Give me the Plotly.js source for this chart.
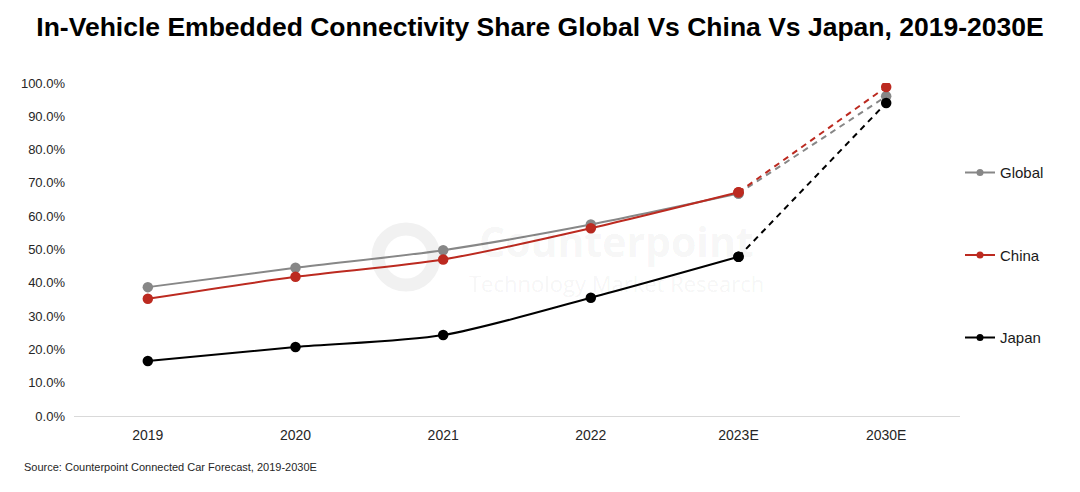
<!DOCTYPE html>
<html>
<head>
<meta charset="utf-8">
<script src="https://cdn.plot.ly/plotly-3.0.1.min.js"></script>
<style>
html,body{margin:0;padding:0;background:#fff;}
#chart{width:1080px;height:492px;}
</style>
</head>
<body>
<div id="chart"></div>
<script>
// ---- data ----
const years = ["2019", "2020", "2021", "2022", "2023E", "2030E"];
const globalShare = [0.387, 0.445, 0.498, 0.575, 0.668, 0.960];
const chinaShare  = [0.352, 0.418, 0.470, 0.564, 0.672, 0.988];
const japanShare  = [0.165, 0.207, 0.243, 0.355, 0.478, 0.940];
const seriesNames = ["Global", "China", "Japan"];
const seriesColors = ["#878787", "#bc2a20", "#000000"];
const titleText = "In-Vehicle Embedded Connectivity Share Global Vs China Vs Japan, 2019-2030E";
const sourceText = "Source: Counterpoint Connected Car Forecast, 2019-2030E";

const allSeries = [globalShare, chinaShare, japanShare];
const splitIdx = 4; // last actual point (2023E)

const traces = [];
allSeries.forEach((vals, i) => {
  // solid, smoothed part
  traces.push({
    x: years.slice(0, splitIdx + 1), y: vals.slice(0, splitIdx + 1),
    type: "scatter", mode: "lines+markers", name: seriesNames[i],
    line: {color: seriesColors[i], width: 2, shape: "spline", smoothing: 0.8},
    marker: {color: seriesColors[i], size: 10.5},
    showlegend: false, hoverinfo: "skip"
  });
  // dashed forecast part
  traces.push({
    x: years.slice(splitIdx), y: vals.slice(splitIdx),
    type: "scatter", mode: "lines+markers", name: seriesNames[i],
    line: {color: seriesColors[i], width: 2, dash: "6px,5px"},
    marker: {color: seriesColors[i], size: 10.5},
    showlegend: false, hoverinfo: "skip"
  });
});
// legend entries
seriesNames.forEach((n, i) => {
  traces.push({
    x: [null], y: [null], type: "scatter", mode: "lines+markers", name: n,
    legendgroup: n,
    line: {color: seriesColors[i], width: 2},
    marker: {color: seriesColors[i], size: 7},
    showlegend: true
  });
});

const wm = "rgba(0,0,0,0.055)";
const layout = {
  width: 1080, height: 492,
  margin: {l: 74, r: 120, t: 83, b: 76},
  paper_bgcolor: "#ffffff", plot_bgcolor: "rgba(0,0,0,0)",
  font: {family: "Liberation Sans, Arial, sans-serif", color: "#262626"},
  title: {
    text: "<b>" + titleText + "</b>",
    font: {family: "Liberation Sans Narrow, Arial Narrow, Liberation Sans, sans-serif", size: 26.5, color: "#000"},
    x: 0.5, xref: "container", xanchor: "center", y: 0.945, yanchor: "middle"
  },
  xaxis: {
    type: "category", range: [-0.5, 5.5],
    showgrid: false, zeroline: false,
    showline: true, linecolor: "#d9d9d9", linewidth: 1,
    ticks: "", tickfont: {size: 14, color: "#262626"},
    ticklabelstandoff: 6, fixedrange: true
  },
  yaxis: {
    range: [0, 1.0], dtick: 0.1, tick0: 0, tickformat: ".1%",
    showgrid: false, zeroline: false, showline: false,
    ticks: "", tickfont: {size: 13, color: "#262626"},
    ticklabelstandoff: 8, fixedrange: true
  },
  legend: {
    x: 1.0, xanchor: "left", y: 0.78, yanchor: "top",
    bgcolor: "rgba(0,0,0,0)", borderwidth: 0,
    font: {size: 15, color: "#1a1a1a"},
    tracegroupgap: 60, itemwidth: 30
  },
  shapes: [
    {type: "circle", xref: "paper", yref: "paper", layer: "below",
     x0: (378 - 74) / 886, x1: (434 - 74) / 886,
     y0: (416 - 285) / 333, y1: (416 - 229) / 333,
     line: {color: "#f1f1f1", width: 13}}
  ],
  annotations: [
    {text: "<b>Counterpoint</b>", xref: "paper", yref: "paper",
     x: (616 - 74) / 886, y: (416 - 241) / 333, showarrow: false,
     font: {family: "Open Sans, sans-serif", size: 41, color: wm}},
    {text: "Technology Market Research", xref: "paper", yref: "paper",
     x: (616 - 74) / 886, y: (416 - 283) / 333, showarrow: false,
     font: {family: "Open Sans, sans-serif", size: 22, color: wm}},
    {text: sourceText, xref: "paper", yref: "paper", xanchor: "left", yanchor: "middle",
     x: (22 - 74) / 886, y: (416 - 467) / 333, showarrow: false,
     font: {size: 11, color: "#262626"}}
  ]
};

Plotly.newPlot("chart", traces, layout, {displayModeBar: false, staticPlot: true});
</script>
</body>
</html>
